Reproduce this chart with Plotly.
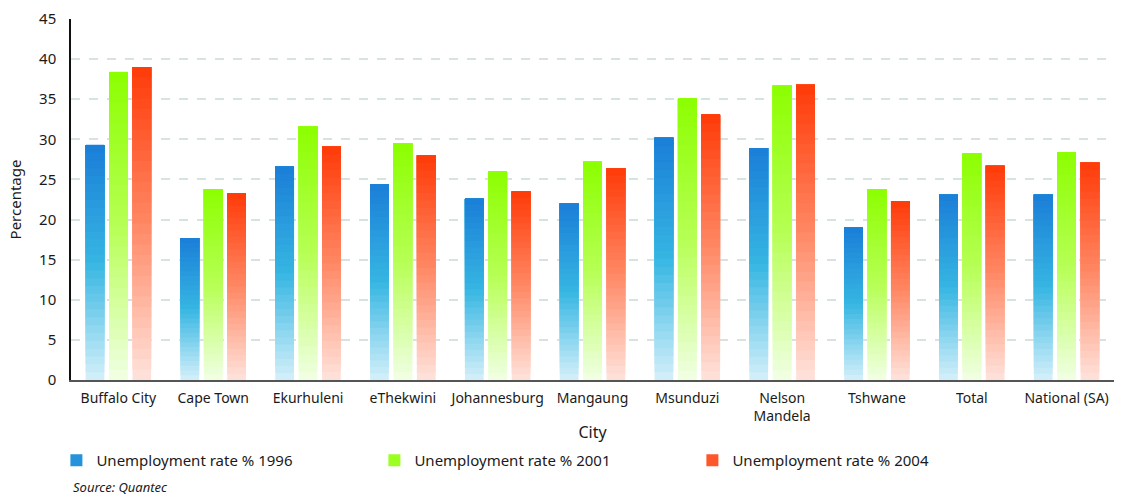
import plotly.graph_objects as go

## DATA
cities = ['Buffalo City', 'Cape Town', 'Ekurhuleni', 'eThekwini', 'Johannesburg', 'Mangaung',
          'Msunduzi', 'Nelson<br>Mandela', 'Tshwane', 'Total', 'National (SA)']
rate_1996 = [29.3, 17.7, 26.6, 24.4, 22.6, 22.0, 30.2, 28.9, 19.0, 23.1, 23.1]
rate_2001 = [38.4, 23.8, 31.6, 29.5, 26.0, 27.2, 35.1, 36.7, 23.8, 28.3, 28.4]
rate_2004 = [39.0, 23.3, 29.1, 28.0, 23.5, 26.4, 33.1, 36.8, 22.3, 26.7, 27.1]
series_names = ['Unemployment rate % 1996', 'Unemployment rate % 2001', 'Unemployment rate % 2004']

# gradient stops, bottom -> middle -> top of each bar
gradients = [
    ['#d4f0fa', '#36b6e2', '#1a7ed8'],
    ['#f1ffe4', '#b6ff55', '#8cff00'],
    ['#ffe3dc', '#ff8864', '#ff3a08'],
]
n_seg = 30


def hex2rgb(h):
    h = h.lstrip('#')
    return [int(h[i:i + 2], 16) for i in (0, 2, 4)]


def grad_color(stops, t):
    # t from 0 (bottom) to 1 (top)
    if t <= 0.5:
        a, b, f = stops[0], stops[1], t / 0.5
    else:
        a, b, f = stops[1], stops[2], (t - 0.5) / 0.5
    ca, cb = hex2rgb(a), hex2rgb(b)
    c = [round(ca[i] + (cb[i] - ca[i]) * f) for i in range(3)]
    return 'rgb(%d,%d,%d)' % tuple(c)


fig = go.Figure()

# each bar = pile of slices, every slice reaches the bar top so the next one covers it (no seams)
for s, vals in enumerate([rate_1996, rate_2001, rate_2004]):
    for k in range(n_seg):
        t = (k + 0.5) / n_seg
        fig.add_trace(go.Bar(
            x=cities,
            y=[v * (1 - k / n_seg) for v in vals],
            base=[v * k / n_seg for v in vals],
            offsetgroup=str(s),
            marker=dict(color=grad_color(gradients[s], t), line=dict(width=0)),
            name=series_names[s],
            legendgroup=series_names[s],
            showlegend=(k == n_seg - 6),
            hoverinfo='skip',
        ))

fig.update_layout(
    width=1122, height=496,
    margin=dict(l=71, r=8, t=17, b=116),
    paper_bgcolor='white', plot_bgcolor='white',
    font=dict(family='Noto Sans', size=14, color='#1a1a1a'),
    barmode='group', bargap=0.26, bargroupgap=0.2,
    showlegend=True,
    legend=dict(orientation='h', x=-0.014, xanchor='left', y=-0.223, yanchor='middle',
                entrywidth=273, font=dict(size=15), itemclick=False,
                traceorder='normal'),
    annotations=[
        dict(text='<i>Source: Quantec</i>', x=0, xref='paper', xanchor='left', y=-0.2975,
             yref='paper', yanchor='middle', showarrow=False,
             font=dict(size=13, color='#1a1a1a', family='Noto Sans')),
    ],
)

fig.update_xaxes(
    title=dict(text='City', standoff=3, font=dict(size=16)),
    showline=True, linecolor='#555555', linewidth=2,
    ticks='', tickfont=dict(size=14), ticklabelstandoff=4,
)
fig.update_yaxes(
    title=dict(text='Percentage', standoff=14, font=dict(size=15)),
    range=[0, 45], dtick=5, tickfont=dict(size=15),
    showline=True, linecolor='#111111', linewidth=1.5,
    showgrid=True, gridcolor='#d7e3e0', gridwidth=1.5, griddash='dash',
    zeroline=False, ticks='', ticklabelstandoff=10,
)

# page body has a default 8px margin, drop it so the figure fills the window exactly
fig.write_html('out.html', config={'displayModeBar': False},
               post_script="document.body.style.margin='0';")
